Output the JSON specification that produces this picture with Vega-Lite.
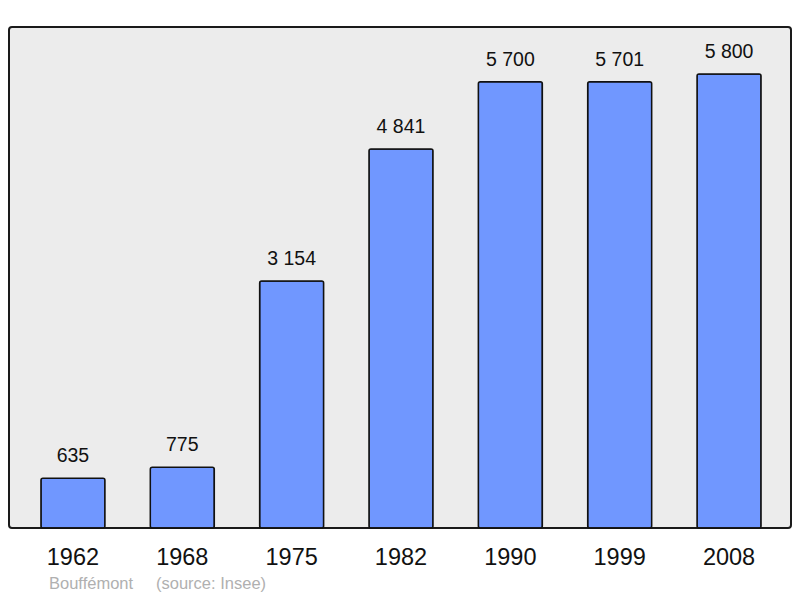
{
  "$schema": "https://vega.github.io/schema/vega-lite/v6.json",
  "width": 782,
  "height": 501,
  "autosize": "none",
  "padding": {"left": 9, "top": 27, "right": 9, "bottom": 70},
  "background": "white",
  "title": {
    "text": "Bouffémont\u00a0\u00a0\u00a0\u00a0\u00a0(source: Insee)",
    "orient": "bottom",
    "anchor": "start",
    "dx": 40,
    "offset": 7,
    "fontSize": 16.5,
    "fontWeight": "normal",
    "font": "Liberation Sans",
    "color": "#b0b0b0"
  },
  "config": {
    "locale": {"number": {"decimal": ",", "thousands": "\u00a0", "grouping": [3], "currency": ["", " €"]}},
    "view": {"stroke": "#1a1a1a", "strokeWidth": 2, "fill": "#ececec", "cornerRadius": 3},
    "font": "Liberation Sans"
  },
  "data": {
    "values": [
      {"year": "1962", "population": 635},
      {"year": "1968", "population": 775},
      {"year": "1975", "population": 3154},
      {"year": "1982", "population": 4841},
      {"year": "1990", "population": 5700},
      {"year": "1999", "population": 5701},
      {"year": "2008", "population": 5800}
    ]
  },
  "encoding": {
    "x": {
      "field": "year",
      "type": "nominal",
      "sort": null,
      "scale": {"paddingInner": 0.4146, "paddingOuter": 0.283, "align": 0.516},
      "axis": {
        "title": null,
        "domain": false,
        "ticks": false,
        "grid": false,
        "labelAngle": 0,
        "labelFontSize": 23.5,
        "labelColor": "#111",
        "labelPadding": 17,
        "labelFont": "Liberation Sans"
      }
    },
    "y": {
      "field": "population",
      "type": "quantitative",
      "scale": {"domain": [0, 6400], "nice": false},
      "axis": null
    }
  },
  "layer": [
    {
      "mark": {"type": "bar", "fill": "#7097ff", "stroke": "#111", "strokeWidth": 1.5, "cornerRadius": 2}
    },
    {
      "mark": {"type": "text", "baseline": "alphabetic", "dy": -16, "fontSize": 19.5, "color": "#111", "font": "Liberation Sans"},
      "encoding": {"text": {"field": "population", "type": "quantitative", "format": ",d"}}
    }
  ]
}
